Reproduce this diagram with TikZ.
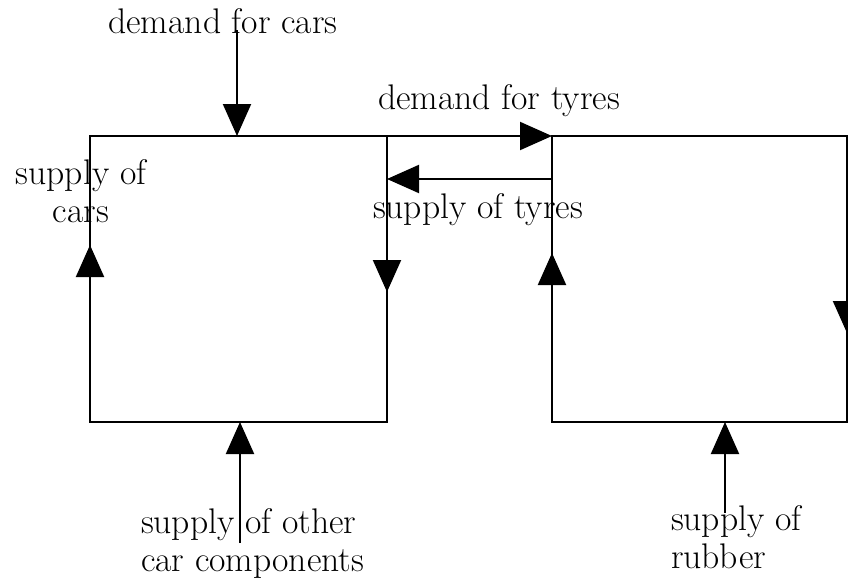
\documentclass[tikz,border=0pt]{standalone}
\usetikzlibrary{arrows.meta,positioning}

\begin{document}
\begin{tikzpicture}[x=0.5pt, y=-0.5pt, line width=1pt, >={Triangle[length=16pt,width=14pt]},
    lbl/.style={inner sep=0pt, font=\fontsize{17.8}{19}\selectfont},
    box/.style={draw, rectangle, inner sep=0pt, outer sep=0pt, minimum height=143pt}]
  \useasboundingbox (0,0) rectangle (848,578);
  \node [box, minimum width=148.5pt](cars) at (238.5,279){};
  \node [box, minimum width=147.5pt](tyres) at (699.5,279){};
  \node [lbl, anchor=base](dcars) at (223,33) {demand for cars};
  \node [lbl, anchor=base](dtyres) at (499,110) {demand for tyres};
  \node [lbl, anchor=base](styres) at (478,218) {supply of tyres};
  % multi-line labels: base is the last line
  \node [lbl, anchor=base, align=center](scars) at (81,222) {supply of\\cars};
  \node [lbl, anchor=base west, align=left](sother) at (140,571) {supply of other\\car components};
  \node [lbl, anchor=base west, align=left](srubber) at (670,568) {supply of\\rubber};
  \coordinate (dcarsin) at (237,30);
  \coordinate (sotherin) at (240,543);
  \coordinate (srubberin) at (725,513);
  \draw [->] (dcarsin) -- (dcarsin |- cars.north);
  \draw [->] (sotherin) -- (sotherin |- cars.south);
  \draw [->] (srubberin) -- (srubberin |- tyres.south);
  \draw [->] (cars.north east) -- (tyres.north west);
  \draw (tyres.north east) --++ (1,0);
  \draw [->] ([yshift=-21.5pt]tyres.north west) -- ([yshift=-21.5pt]cars.north east);
  \draw [->] (cars.south west) --++ (0,-177);
  \draw [->] (cars.north east) --++ (0,156);
  \draw [->] (tyres.south west) --++ (0,-169);
  \draw [->] (tyres.north east) --++ (0,197);
\end{tikzpicture}
\end{document}
